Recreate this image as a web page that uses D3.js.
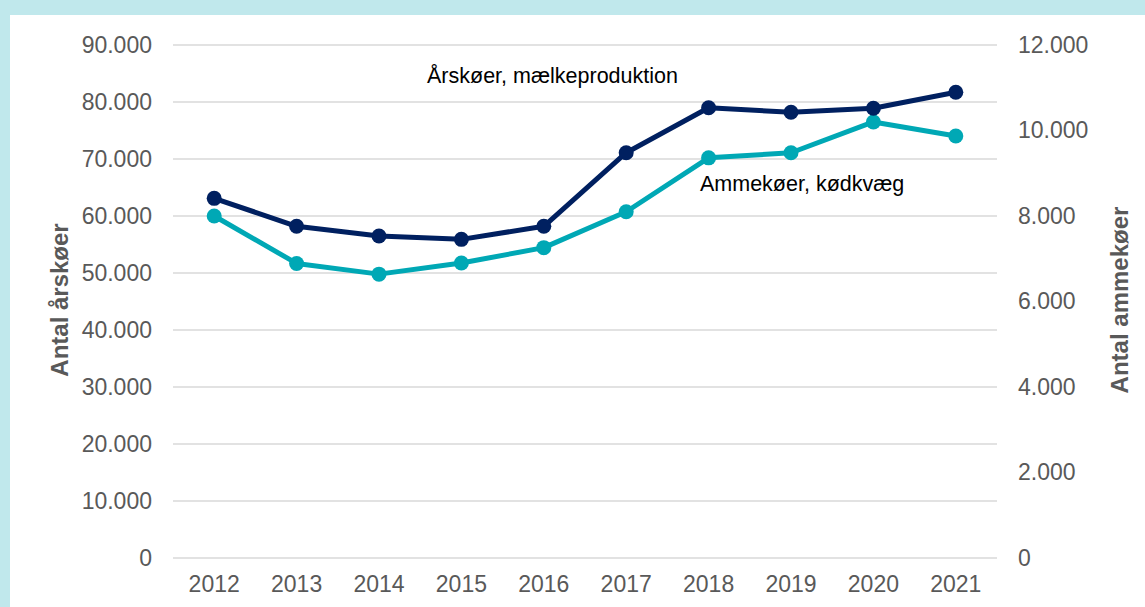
<!DOCTYPE html>
<html>
<head>
<meta charset="utf-8">
<script src="https://cdn.jsdelivr.net/npm/d3@7"></script>
<style>
  body { margin: 0; background: #c0e8ec; }
  svg { display: block; font-family: "Liberation Sans", Arial, sans-serif; }
</style>
</head>
<body>
<svg id="chart" width="1145" height="607"></svg>
<script>
// årstal
const years = ['2012', '2013', '2014', '2015', '2016', '2017', '2018', '2019', '2020', '2021'];
// Årskøer, mælkeproduktion (venstre akse)
const aarskoeer = [63100, 58200, 56500, 55900, 58200, 71100, 79000, 78200, 78900, 81700];
// Ammekøer, kødkvæg (højre akse)
const ammekoeer = [8000, 6890, 6640, 6900, 7260, 8100, 9360, 9480, 10200, 9870];
const leftTicks = [0, 10000, 20000, 30000, 40000, 50000, 60000, 70000, 80000, 90000];
const rightTicks = [0, 2000, 4000, 6000, 8000, 10000, 12000];

const navy = '#002060';
const teal = '#00a8b5';
const grey = '#595959';

const svg = d3.select('#chart');

svg.append('rect')
    .attr('x', 10).attr('y', 15)
    .attr('width', 1135).attr('height', 592)
    .attr('fill', '#fff');

const x = d3.scaleBand().domain(years).range([173, 997]);
const yL = d3.scaleLinear().domain([0, 90000]).range([558, 45]);
const yR = d3.scaleLinear().domain([0, 12000]).range([558, 45]);

const fmt = v => d3.format(',')(v).replace(/,/g, '.');

// gitterlinjer
svg.append('g')
    .selectAll('line')
    .data(leftTicks)
    .join('line')
    .attr('x1', 173).attr('x2', 997)
    .attr('y1', d => yL(d)).attr('y2', d => yL(d))
    .attr('stroke', '#d9d9d9')
    .attr('stroke-width', 1.5);

let leftAxis = svg.append('g')
    .attr('transform', 'translate(173,0)')
    .call(d3.axisLeft(yL).tickValues(leftTicks).tickFormat(fmt).tickSize(0).tickPadding(21));

let rightAxis = svg.append('g')
    .attr('transform', 'translate(997,0)')
    .call(d3.axisRight(yR).tickValues(rightTicks).tickFormat(fmt).tickSize(0).tickPadding(21));

let bottomAxis = svg.append('g')
    .attr('transform', 'translate(0,558)')
    .call(d3.axisBottom(x).tickSize(0).tickPadding(18));

[leftAxis, rightAxis, bottomAxis].forEach(a => {
    a.select('.domain').remove();
    a.selectAll('text')
        .attr('fill', grey)
        .style('font-size', '23px')
        .style('font-family', '"Liberation Sans", Arial, sans-serif');
});

// aksetitler
svg.append('text')
    .attr('transform', 'translate(68,300) rotate(-90)')
    .attr('text-anchor', 'middle')
    .attr('fill', grey)
    .style('font-size', '24px')
    .style('font-weight', 'bold')
    .text('Antal årskøer');

svg.append('text')
    .attr('transform', 'translate(1128,300) rotate(-90)')
    .attr('text-anchor', 'middle')
    .attr('fill', grey)
    .style('font-size', '24px')
    .style('font-weight', 'bold')
    .text('Antal ammekøer');

const cx = d => x(d) + x.bandwidth() / 2;

function drawSeries (values, yScale, color) {
    const pts = years.map((yr, i) => [cx(yr), yScale(values[i])]);
    svg.append('path')
        .attr('d', d3.line()(pts))
        .attr('fill', 'none')
        .attr('stroke', color)
        .attr('stroke-width', 5)
        .attr('stroke-linejoin', 'round');
    svg.append('g')
        .selectAll('circle')
        .data(pts)
        .join('circle')
        .attr('cx', d => d[0])
        .attr('cy', d => d[1])
        .attr('r', 7.5)
        .attr('fill', color);
}

drawSeries(ammekoeer, yR, teal);
drawSeries(aarskoeer, yL, navy);

// dataetiketter
svg.append('text')
    .attr('x', 427).attr('y', 83)
    .attr('fill', '#000')
    .style('font-size', '21.5px')
    .text('Årskøer, mælkeproduktion');

svg.append('text')
    .attr('x', 700).attr('y', 191)
    .attr('fill', '#000')
    .style('font-size', '21.5px')
    .text('Ammekøer, kødkvæg');
</script>
</body>
</html>
